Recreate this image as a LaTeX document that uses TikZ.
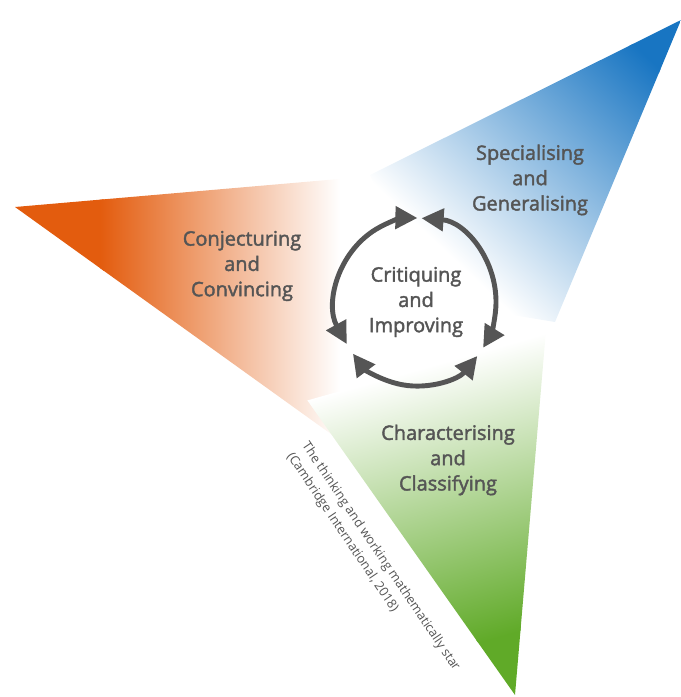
\documentclass[tikz,border=0pt]{standalone}
\usepackage{fontspec}
\setmainfont{Open Sans}
\newfontfamily\labelfont{Open Sans}[FakeBold=2]
\usetikzlibrary{arrows.meta}
\definecolor{orng}{HTML}{E35C0E}
\definecolor{bleu}{HTML}{1875C2}
\definecolor{vert}{HTML}{60AA28}
\definecolor{gris}{HTML}{555555}

\begin{document}
\begin{tikzpicture}[x=0.025cm, y=-0.025cm, skill/.style={align=center, text=gris, inner sep=0pt, font=\labelfont\fontsize{14.2}{18}\selectfont}, cite/.style={align=left, text=gris, inner sep=0pt, font=\fontsize{9.1}{13}\selectfont}, roundarrow/.style={draw=gris, line width=3.5pt, {Triangle[length=0.55cm, width=0.55cm]}-{Triangle[length=0.55cm, width=0.55cm]}}]
		\useasboundingbox (0,0) rectangle (680,697);
		
		% orange arm
		\begin{scope}
			\clip (15,207) -- (420,172) -- (370,462) -- cycle;
			\fill[orng] (0,150) rectangle (104,470);
			\shade[left color=orng, right color=white] (100,150) rectangle (340,470);
		\end{scope}
		% blue arm
		\begin{scope}
			\clip (681,20) -- (370,175) -- (420,300) -- (555,322) -- cycle;
			\begin{scope}[transform canvas={shift={(681,20)}, rotate=226.8}]
				\fill[bleu] (-20,-250) rectangle (54,250);
				\shade[left color=bleu, right color=white] (50,-250) rectangle (330,250);
			\end{scope}
		\end{scope}
		% green arm
		\begin{scope}
			\clip (515,695) -- (286,370) -- (420,325) -- (546,330) -- cycle;
			\begin{scope}[transform canvas={shift={(515,695)}, rotate=105.8}]
				\fill[vert] (-20,-250) rectangle (64,250);
				\shade[left color=vert, right color=white] (60,-250) rectangle (340,250);
			\end{scope}
		\end{scope}
		
		\node[skill](spec) at (530, 180) {Specialising\\and\\Generalising};
		\node[skill](conj) at (242, 266) {Conjecturing\\and\\Convincing};
		\node[skill](crit) at (416, 302) {Critiquing\\and\\Improving};
		\node[skill](char) at (448, 460) {Characterising\\and\\Classifying};
		
		\draw[roundarrow] (crit.center) ++(-86:80 and 84) arc[start angle=-86, end angle=33, x radius=80, y radius=84];
		\draw[roundarrow] (crit.center) ++(40:80 and 84) arc[start angle=40, end angle=142, x radius=80, y radius=84];
		\draw[roundarrow] (crit.center) ++(150:80 and 84) arc[start angle=150, end angle=271, x radius=80, y radius=84];
		
		\node[cite, rotate=-56, anchor=north west](src) at (310, 440) {The thinking and working mathematically star\\(Cambridge International, 2018)};
\end{tikzpicture}
\end{document}
